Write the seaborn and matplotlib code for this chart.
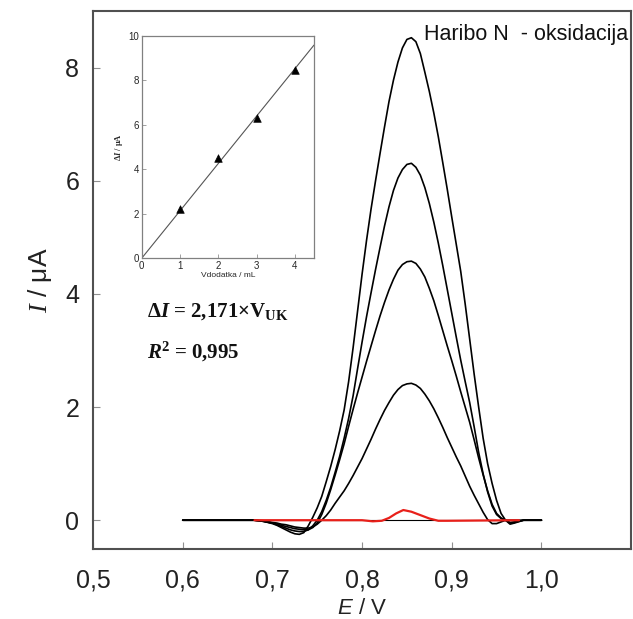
import numpy as np
import pandas as pd
import matplotlib
matplotlib.use('Agg')
import matplotlib.pyplot as plt
import seaborn as sns

# 데이터
E = [0.60, 0.65, 0.68, 0.69, 0.70, 0.705, 0.71, 0.715, 0.72, 0.725,
     0.73, 0.735, 0.74, 0.745, 0.75, 0.755, 0.76, 0.765, 0.77, 0.775,
     0.78, 0.785, 0.79, 0.795, 0.80, 0.805, 0.81, 0.815, 0.82, 0.825,
     0.83, 0.835, 0.84, 0.845, 0.85, 0.855, 0.86, 0.865, 0.87, 0.875,
     0.88, 0.885, 0.89, 0.895, 0.90, 0.905, 0.91, 0.915, 0.92, 0.925,
     0.93, 0.935, 0.94, 0.945, 0.95, 0.955, 0.96, 0.965, 0.97, 0.98,
     0.99, 1.00]

I_4mL = [0, 0, 0, -0.02, -0.06, -0.09, -0.13, -0.17, -0.21, -0.24,
         -0.25, -0.22, -0.10, 0.05, 0.22, 0.42, 0.68, 0.95, 1.25, 1.58,
         1.95, 2.45, 3.05, 3.70, 4.35, 4.95, 5.50, 6.00, 6.48, 6.95,
         7.40, 7.78, 8.10, 8.35, 8.50, 8.53, 8.46, 8.25, 7.92, 7.58,
         7.20, 6.78, 6.32, 5.85, 5.36, 4.88, 4.40, 3.82, 3.20, 2.58,
         2.00, 1.45, 1.00, 0.65, 0.35, 0.12, 0.0, -0.07, -0.05, 0,
         0, 0]
I_3mL = [0, 0, 0, -0.02, -0.05, -0.08, -0.11, -0.14, -0.17, -0.19,
         -0.20, -0.20, -0.17, -0.10, 0.0, 0.15, 0.35, 0.58, 0.85, 1.13,
         1.45, 1.80, 2.20, 2.68, 3.15, 3.60, 4.02, 4.43, 4.82, 5.20,
         5.54, 5.83, 6.05, 6.20, 6.29, 6.31, 6.24, 6.10, 5.88, 5.60,
         5.27, 4.90, 4.50, 4.08, 3.66, 3.24, 2.83, 2.45, 2.08, 1.65,
         1.20, 0.82, 0.50, 0.25, 0.10, 0.03, 0.0, -0.05, -0.04, 0,
         0, 0]
I_2mL = [0, 0, 0, -0.02, -0.05, -0.07, -0.09, -0.11, -0.13, -0.15,
         -0.16, -0.17, -0.17, -0.13, -0.05, 0.10, 0.30, 0.54, 0.80, 1.07,
         1.35, 1.66, 1.96, 2.25, 2.53, 2.81, 3.08, 3.35, 3.61, 3.85,
         4.07, 4.26, 4.42, 4.52, 4.57, 4.58, 4.54, 4.44, 4.30, 4.10,
         3.88, 3.62, 3.35, 3.08, 2.82, 2.55, 2.27, 2.00, 1.73, 1.42,
         1.10, 0.80, 0.52, 0.28, 0.12, 0.04, 0.0, -0.04, -0.03, 0,
         0, 0]
I_1mL = [0, 0, 0, -0.01, -0.04, -0.05, -0.07, -0.08, -0.10, -0.12,
         -0.13, -0.14, -0.14, -0.12, -0.07, 0.0, 0.08, 0.18, 0.30, 0.41,
         0.52, 0.65, 0.79, 0.94, 1.09, 1.26, 1.43, 1.61, 1.78, 1.94,
         2.08, 2.21, 2.31, 2.38, 2.41, 2.42, 2.39, 2.33, 2.23, 2.11,
         1.97, 1.81, 1.64, 1.46, 1.29, 1.12, 0.96, 0.78, 0.60, 0.44,
         0.29, 0.14, 0.01, -0.06, -0.06, -0.03, 0.0, 0, 0, 0,
         0, 0]

E_blank = [0.68, 0.80, 0.812, 0.822, 0.83, 0.838, 0.846, 0.855, 0.865, 0.875,
           0.885, 0.895, 0.975]
I_blank = [0, 0, -0.02, -0.01, 0.04, 0.12, 0.18, 0.15, 0.09, 0.03,
           -0.01, -0.01, 0]

# 인셋 데이터
V_dodatka = [1, 2, 3, 4]
dI = [2.2, 4.5, 6.3, 8.45]

sns.set_theme(style='ticks')
plt.rcParams['font.family'] = ['Liberation Sans', 'DejaVu Sans']
plt.rcParams['mathtext.fontset'] = 'custom'
plt.rcParams['mathtext.rm'] = 'Liberation Sans'
plt.rcParams['mathtext.it'] = 'Liberation Sans:italic'
plt.rcParams['mathtext.cal'] = 'Liberation Serif:italic'
plt.rcParams['mathtext.bf'] = 'Liberation Serif:bold'
plt.rcParams['mathtext.bfit'] = 'Liberation Serif:italic:bold'

fig = plt.figure(figsize=(6.33, 6.19), dpi=100)
ax = fig.add_axes([0.147, 0.113, 0.85, 0.869])

spine_c = '#505050'
for curve in [I_4mL, I_3mL, I_2mL, I_1mL]:
    sns.lineplot(x=E, y=curve, color='black', linewidth=1.2, estimator=None,
                 sort=False, ax=ax)
ax.plot([0.6, 1.0], [0, 0], color='black', linewidth=0.8)
sns.lineplot(x=E_blank, y=I_blank, color='#e8201a', linewidth=1.6,
             estimator=None, sort=False, ax=ax)

ax.set_xlim(0.5, 1.1)
ax.set_ylim(-0.51, 9.0)
ax.set_xticks([0.5, 0.6, 0.7, 0.8, 0.9, 1.0])
ax.set_xticklabels(['0,5', '0,6', '0,7', '0,8', '0,9', '1,0'])
ax.set_yticks([0, 2, 4, 6, 8])
ax.set_yticklabels(['0', '2', '4', '6', '8'])
ax.tick_params(direction='in', length=5, width=0.8, color='#909090',
               labelsize=18, pad=10, labelcolor='#222222')
ax.tick_params(axis='x', pad=14)
for s in ax.spines.values():
    s.set_color(spine_c)
    s.set_linewidth(1.5)
ax.set_xlabel(r'$E$ / V', fontsize=16, labelpad=4, color='#222222')
ax.set_ylabel(r'$\mathcal{I}$ / μA', fontsize=19, labelpad=8, color='#222222')

ax.text(0.995, 0.977, 'Haribo N  - oksidacija', transform=ax.transAxes,
        ha='right', va='top', fontsize=15.5, color='#111111')

ax.text(0.1, 0.432, r'Δ$\mathbfit{I}$ = 2,171×V$_{\mathbf{UK}}$',
        transform=ax.transAxes, fontsize=15, fontweight='bold',
        family='Liberation Serif', color='#111111')
ax.text(0.1, 0.355, r'$\mathbfit{R}^{\mathbf{2}}$ = 0,995',
        transform=ax.transAxes, fontsize=15, fontweight='bold',
        family='Liberation Serif', color='#111111')

# 인셋 그래프
axi = fig.add_axes([0.224, 0.583, 0.272, 0.359])
slope = np.sum(np.array(V_dodatka) * np.array(dI)) / np.sum(np.array(V_dodatka) ** 2)
fit_x = np.array([0, 4.5])
sns.lineplot(x=fit_x, y=slope * fit_x, color='#555555', linewidth=0.8, ax=axi)
sns.scatterplot(x=V_dodatka, y=dI, marker='^', color='black', s=30,
                edgecolor='black', ax=axi, zorder=3)
axi.set_xlim(0, 4.5)
axi.set_ylim(0, 10)
axi.set_xticks([0, 1, 2, 3, 4])
axi.set_yticks([0, 2, 4, 6, 8, 10])
axi.tick_params(direction='in', length=3, width=0.6, color='#909090',
                labelsize=7, pad=2)
for s in axi.spines.values():
    s.set_color('#808080')
    s.set_linewidth(0.9)
axi.set_xlabel('Vdodatka / mL', fontsize=6, labelpad=1)
axi.set_ylabel(r'Δ$\mathbfit{I}$ / μA', fontsize=6, fontweight='bold',
               family='Liberation Serif', labelpad=2)

plt.savefig('out.png', dpi=100)
